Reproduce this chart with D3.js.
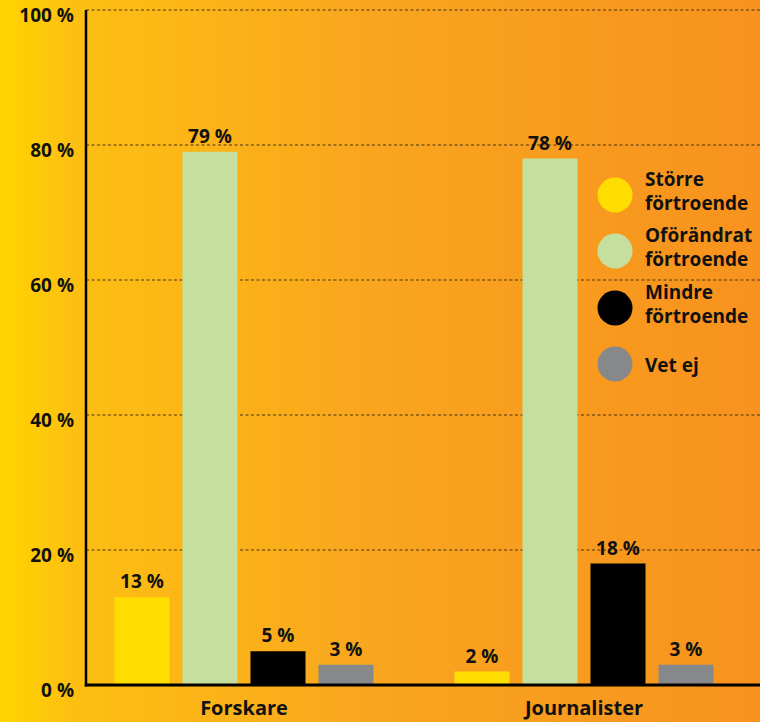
<!DOCTYPE html>
<html>
<head>
<meta charset="utf-8">
<script src="https://cdn.jsdelivr.net/npm/d3@7/dist/d3.min.js"></script>
<style>
html,body{margin:0;padding:0;overflow:hidden;}
svg{display:block;font-family:"Open Sans",sans-serif;}
</style>
</head>
<body>
<svg id="chart" width="760" height="722"></svg>
<script>
const categories = ["Forskare", "Journalister"];
const seriesNames = ["Större förtroende", "Oförändrat förtroende", "Mindre förtroende", "Vet ej"];
const legendLines = [["Större", "förtroende"], ["Oförändrat", "förtroende"], ["Mindre", "förtroende"], ["Vet ej"]];
const storre = [13, 2];
const oforandrat = [79, 78];
const mindre = [5, 18];
const vetEj = [3, 3];
const yTicks = [0, 20, 40, 60, 80, 100];
const colors = ["#FFDD00", "#C5E09E", "#000000", "#87888A"];

const seriesValues = [storre, oforandrat, mindre, vetEj];

const svg = d3.select("#chart");
const W = 760, H = 722;

const defs = svg.append("defs");
const grad = defs.append("linearGradient").attr("id", "bg").attr("x1", "0").attr("x2", "1").attr("y1", "0").attr("y2", "0");
[[0, "#FFD400"], [0.1, "#FDBF12"], [0.5, "#F9A51F"], [1, "#F7921E"]].forEach(([o, c]) =>
  grad.append("stop").attr("offset", o).attr("stop-color", c));
svg.append("rect").attr("width", W).attr("height", H).attr("fill", "url(#bg)");

const axisX = 86;
const y = d3.scaleLinear().domain([0, 100]).range([685, 10]);
const x0 = d3.scaleBand().domain(categories).range([74, 754]).padding(0);
const x1 = d3.scaleBand().domain(seriesNames).range([-136, 136]).paddingInner(13 / 68).paddingOuter(13 / 136);

// gridlines
svg.append("g").selectAll("line").data(yTicks.filter(d => d > 0)).join("line")
  .attr("x1", axisX).attr("x2", W)
  .attr("y1", d => y(d)).attr("y2", d => y(d))
  .attr("stroke", "#4a3410").attr("stroke-width", 1.2).attr("stroke-dasharray", "3,2.5");

// tick labels
svg.append("g").selectAll("text").data(yTicks).join("text")
  .attr("x", 74).attr("y", d => y(d) + 12)
  .attr("text-anchor", "end")
  .attr("font-size", 19).attr("font-weight", 700).attr("fill", "#111")
  .text(d => d + " %");

// bars
const groups = svg.append("g").selectAll("g").data(categories).join("g")
  .attr("transform", d => `translate(${x0(d) + x0.bandwidth() / 2},0)`);

groups.each(function (cat, ci) {
  const g = d3.select(this);
  const data = seriesNames.map((s, si) => ({ s, si, v: seriesValues[si][ci] }));
  g.selectAll("rect").data(data).join("rect")
    .attr("x", d => x1(d.s)).attr("width", x1.bandwidth())
    .attr("y", d => y(d.v)).attr("height", d => y(0) - y(d.v))
    .attr("fill", d => colors[d.si]);
  g.selectAll("text.val").data(data).join("text").attr("class", "val")
    .attr("x", d => x1(d.s) + x1.bandwidth() / 2)
    .attr("y", d => y(d.v) - 9)
    .attr("text-anchor", "middle")
    .attr("font-size", 19).attr("font-weight", 700).attr("fill", "#111")
    .text(d => d.v + " %");
  g.append("text")
    .attr("x", 0).attr("y", 715)
    .attr("text-anchor", "middle")
    .attr("font-size", 20).attr("font-weight", 700).attr("fill", "#111")
    .text(cat);
});

// axes lines
svg.append("line").attr("x1", axisX).attr("x2", axisX).attr("y1", y(100)).attr("y2", y(0) + 1.5)
  .attr("stroke", "#000").attr("stroke-width", 2.5);
svg.append("line").attr("x1", axisX - 1.25).attr("x2", W).attr("y1", y(0)).attr("y2", y(0))
  .attr("stroke", "#000").attr("stroke-width", 3);

// legend
const legendY = [195, 251, 308, 364];
const leg = svg.append("g").selectAll("g").data(seriesNames).join("g")
  .attr("transform", (d, i) => `translate(615,${legendY[i]})`);
leg.append("circle").attr("r", 17.5).attr("fill", (d, i) => colors[i]);
leg.each(function (d, i) {
  const lines = legendLines[i];
  const t = d3.select(this).append("text")
    .attr("font-size", 19).attr("font-weight", 700).attr("fill", "#111");
  const startY = lines.length === 1 ? 8 : -9;
  lines.forEach((ln, li) => {
    t.append("tspan").attr("x", 30).attr("y", startY + li * 24).text(ln);
  });
});
</script>
</body>
</html>
